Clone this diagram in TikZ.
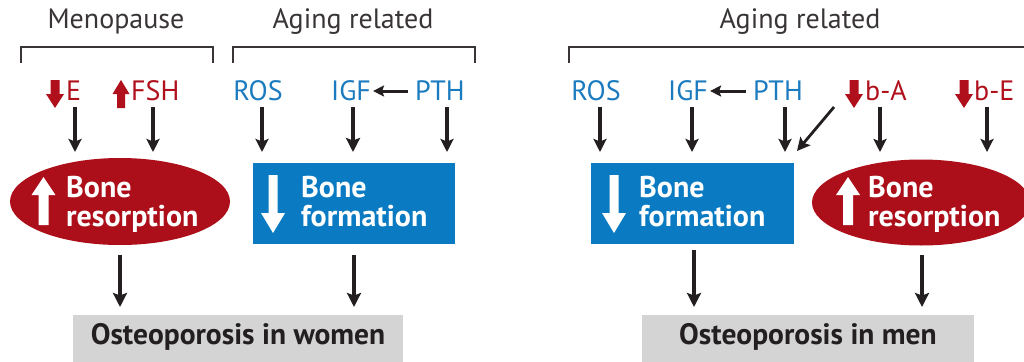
\documentclass[tikz,border=0pt]{standalone}
\usepackage{fontspec}
\setmainfont{PT Sans}
\usetikzlibrary{shapes.geometric,arrows.meta}
\definecolor{dred}{HTML}{B0101B}
\definecolor{ered}{HTML}{AC0F1A}
\definecolor{bbox}{HTML}{0A7BC2}
\definecolor{btxt}{HTML}{1B7BBF}
\definecolor{gbox}{HTML}{D4D4D4}
\definecolor{ink}{HTML}{231F20}
\tikzset{
  arr/.style={draw=ink, line width=3.2pt, -{Stealth[length=13pt,width=13pt,inset=2.5pt]}},
  thick arr/.style={arr, line width=4.2pt, -{Stealth[length=14pt,width=14pt,inset=2.5pt]}},
  side arr/.style={arr, line width=3pt, -{Stealth[length=11pt,width=11pt,inset=2pt]}},
  brk/.style={draw=ink!90, line width=2pt},
  head/.style={inner sep=0pt, text=ink!90, font=\fontsize{28}{28}\selectfont},
  lblr/.style={inner sep=0pt, text=dred, font=\fontsize{28}{28}\selectfont, anchor=west},
  lblb/.style={inner sep=0pt, text=btxt, font=\fontsize{28}{28}\selectfont},
  inner/.style={inner sep=0pt, text=white, align=left, anchor=north west, font=\bfseries\fontsize{30}{29}\selectfont},
  ellred/.style={ellipse, fill=ered, inner sep=0pt},
  boxblue/.style={rectangle, fill=bbox, inner sep=0pt},
  outbox/.style={rectangle, fill=gbox, inner sep=0pt, anchor=north west},
  outtxt/.style={inner sep=0pt, text=ink, font=\bfseries\fontsize{29.5}{29.5}\selectfont},
  downblk/.pic={\fill[dred] (-4.5,0) -- (4.5,0) -- (4.5,14) -- (9,14) -- (0,28) -- (-9,14) -- (-4.5,14) -- cycle;},
  upblk/.pic={\fill[dred] (-4,28) -- (4,28) -- (4,14) -- (8.5,14) -- (0,0) -- (-8.5,14) -- (-4,14) -- cycle;},
  upwht/.pic={\fill[white] (0,0) -- (12,18) -- (5,18) -- (5,48) -- (-5,48) -- (-5,18) -- (-12,18) -- cycle;},
  downwht/.pic={\fill[white] (-4.5,0) -- (4.5,0) -- (4.5,38) -- (12,38) -- (0,58) -- (-12,38) -- (-4.5,38) -- cycle;},
}
\begin{document}
\begin{tikzpicture}[x=1pt,y=-1pt]
\useasboundingbox (0,0) rectangle (1024,361);
\begin{scope}
\clip (0,0) rectangle (1024,361);
% brackets
\draw[brk] (21,63) -- (21,47) -- (213,47) -- (213,63);
\draw[brk] (233,63) -- (233,47) -- (475,47) -- (475,63);
\draw[brk] (569,63) -- (569,47) -- (1030,47);
\node[head] (menop) at (116,22) {Menopause};
\node[head] (agingL) at (353,22) {Aging related};
\node[head] (agingR) at (800,22) {Aging related};

% ---------- left half ----------
\pic at (55,80) {downblk};
\node[lblr] (E) at (66,91) {E};
\pic at (121,80) {upblk};
\node[lblr] (FSH) at (131,91) {FSH};
\node[lblb] (ROS) at (258,91) {ROS};
\node[lblb] (IGF) at (351,91) {IGF};
\node[lblb] (PTH) at (440,91) {PTH};

\node[ellred, minimum width=220, minimum height=87] (resL) at (120,201.5) {};
\pic at (43.5,177) {upwht};
\node[inner] (resLt) at (66,176) {Bone\\resorption};
\node[boxblue, minimum width=202, minimum height=81] (formL) at (354,203.5) {};
\pic at (273,175) {downwht};
\node[inner] (formLt) at (301,176) {Bone\\formation};

\draw[arr] (75,107) -- (75,152);
\draw[arr] (153,107) -- (153,152);
\draw[arr] (262,107) -- (262,152);
\draw[thick arr] (353,107) -- (353,152);
\draw[arr] (447,107) -- (447,152);
\draw[side arr] ([xshift=-7pt]PTH.west) -- ([xshift=2pt]IGF.east);

\node[outbox, minimum width=330, minimum height=50] (womenbox) at (73,315) {};
\node[outtxt] (women) at (238,337) {Osteoporosis in women};
\draw[thick arr] (120,255) -- (120,307);
\draw[thick arr] (354,255) -- (354,307);

% ---------- right half ----------
\node[lblb] (ROS2) at (596,91) {ROS};
\node[lblb] (IGF2) at (688,91) {IGF};
\node[lblb] (PTH2) at (778,91) {PTH};
\pic at (854,80) {downblk};
\node[lblr] (bA) at (865,91) {b-A};
\pic at (964,80) {downblk};
\node[lblr] (bE) at (974,91) {b-E};

\node[boxblue, minimum width=203, minimum height=81] (formR) at (692.5,203.5) {};
\pic at (614,175) {downwht};
\node[inner] (formRt) at (639,176) {Bone\\formation};
\node[ellred, minimum width=218, minimum height=86] (resR) at (921,202.5) {};
\pic at (848,177) {upwht};
\node[inner] (resRt) at (868,176) {Bone\\resorption};

\draw[arr] (600,107) -- (600,152);
\draw[arr] (692,107) -- (692,152);
\draw[arr] (785,107) -- (785,152);
\draw[arr] (880,107) -- (880,152);
\draw[arr] (987,107) -- (987,152);
\draw[arr, line width=2.8pt] (834,107) -- (797,151);
\draw[side arr] ([xshift=-7pt]PTH2.west) -- ([xshift=2pt]IGF2.east);

\node[outbox, minimum width=332, minimum height=50] (menbox) at (642,315) {};
\node[outtxt] (men) at (808,337) {Osteoporosis in men};
\draw[thick arr] (694,250) -- (694,307);
\draw[thick arr] (922,255) -- (922,307);
\end{scope}
\end{tikzpicture}
\end{document}
